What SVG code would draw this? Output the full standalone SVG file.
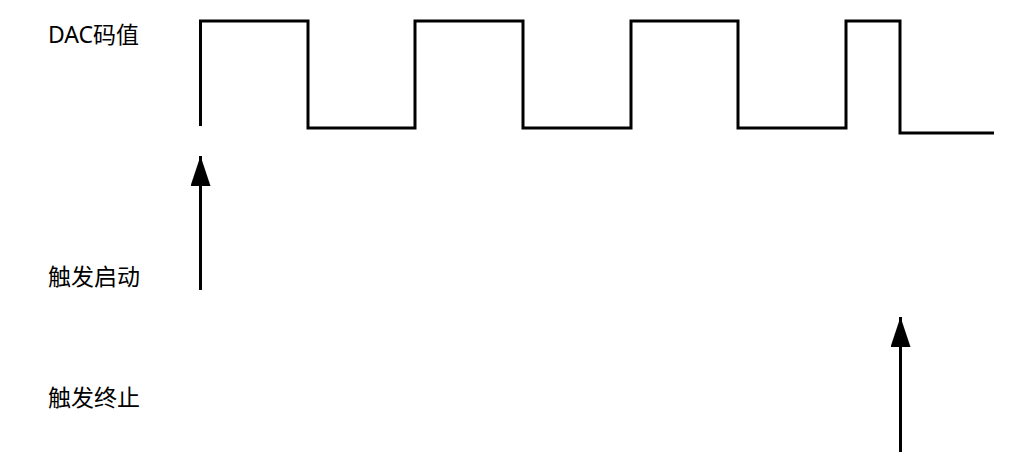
<svg xmlns="http://www.w3.org/2000/svg" width="1014" height="465" viewBox="0 0 1014 465">
<style>
.lbl{font-family:"Noto Sans","Noto Sans CJK SC",sans-serif;font-size:23px;fill:#000}
.wave{fill:none;stroke:#000;stroke-width:3;stroke-linejoin:miter}
.arr{stroke:#000;stroke-width:3;fill:none}
</style>
<defs>
<marker id="ah" markerUnits="userSpaceOnUse" markerWidth="30" markerHeight="20" refX="30" refY="10" orient="auto" viewBox="0 0 30 20">
<path d="M0,0 L30,10 L0,20 Z" fill="#000"/>
</marker>
</defs>
<rect width="1014" height="465" fill="#fff"/>
<g id="label-dac"><text class="lbl" x="48" y="43">DAC码值</text></g>
<g id="label-start"><text class="lbl" x="48" y="285">触发启动</text></g>
<g id="label-stop"><text class="lbl" x="48" y="406">触发终止</text></g>
<g id="waveform">
<path class="wave" d="M200.5,126 V21 H308 V128 H415 V21 H523 V128 H631 V21 H738 V128 H846 V21 H900 V133 H994"/>
</g>
<g id="connectors">
<line class="arr" x1="200.5" y1="290" x2="200.5" y2="156" marker-end="url(#ah)"/>
<line class="arr" x1="900.5" y1="452" x2="900.5" y2="317" marker-end="url(#ah)"/>
</g>
</svg>
